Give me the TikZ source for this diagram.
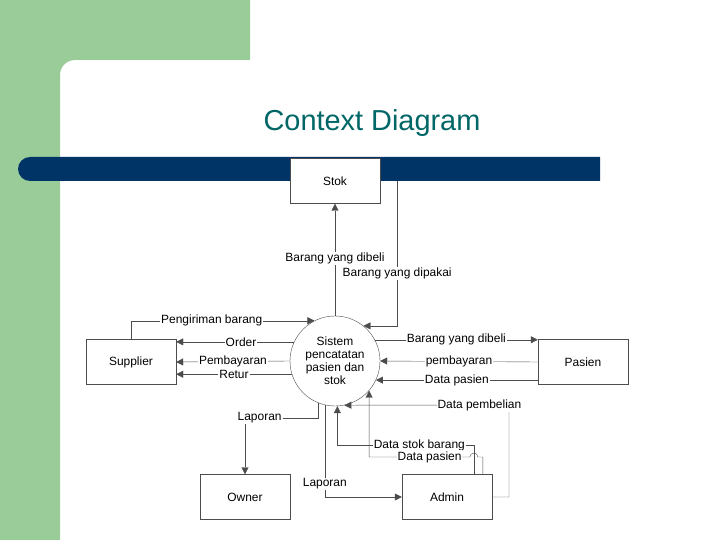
\documentclass[tikz,border=0pt]{standalone}
\usepackage{fontspec}
\setmainfont{Liberation Sans}
\usepackage{tikz}
\usetikzlibrary{arrows.meta, positioning, shapes.geometric}
\definecolor{slidegreen}{RGB}{153,204,153}
\definecolor{barnavy}{RGB}{0,51,102}
\definecolor{titleteal}{RGB}{0,102,102}

\begin{document}
\begin{tikzpicture}[x=1bp, y=-1bp,
    entity/.style={draw=black!70, fill=white, minimum width=90bp, minimum height=45bp, font=\fontsize{12}{13}\selectfont},
    process/.style={draw=black!70, fill=white, circle, minimum size=90bp, inner sep=0pt, align=center, font=\fontsize{12}{13}\selectfont},
    flow/.style={draw=black!70, -{Triangle[length=7bp, width=7bp]}},
    lbl/.style={fill=white, inner sep=1bp, font=\fontsize{12}{13}\selectfont}]
    \useasboundingbox (0,0) rectangle (720,540);

    % Slide background
    \fill[slidegreen] (0,0) -- (250,0) -- (250,60) -- (75,60) arc[start angle=-90, end angle=-180, radius=15] -- (60,540) -- (0,540) -- cycle;
    \fill[barnavy] (600,157) -- (30,157) arc[start angle=-90, end angle=-270, radius=12] -- (600,181) -- cycle;
    \node[text=titleteal, font=\fontsize{29}{32}\selectfont] (title) at (372,123) {Context Diagram};

    % Entities and process
    \node[entity] (stok) at (335,181) {Stok};
    \node[process] (sys) at (335,361) {Sistem\\pencatatan\\pasien dan\\stok};
    \node[entity] (sup) at (131,362) {Supplier};
    \node[entity] (pas) at (583,362) {Pasien};
    \node[entity] (own) at (245,497) {Owner};
    \node[entity] (adm) at (447,497) {Admin};

    % Stok
    \draw[flow] (sys.north) -- node[lbl, pos=0.51] {Barang yang dibeli} (stok.south);
    \draw[flow] ([xshift=17]stok.east) |- node[lbl, pos=0.32] {Barang yang dipakai} (sys.51);

    % Supplier
    \draw[flow] (sup.north) |- node[lbl, pos=0.72] {Pengiriman barang} (sys.117);
    \draw[flow] (sys.155) -- node[lbl, pos=0.45] {Order} (sys.155 -| sup.east);
    \draw[flow] (sys.west) -- node[lbl, pos=0.5] {Pembayaran} (sup.east);
    \draw[flow] (sys.197) -- node[lbl, pos=0.5] {Retur} (sys.197 -| sup.east);

    % Pasien
    \draw[flow] (sys.28) -- node[lbl, pos=0.5] {Barang yang dibeli} (sys.28 -| pas.west);
    \draw[flow] (pas.west) -- node[lbl, pos=0.5] {pembayaran} (sys.east);
    \draw[flow] (sys.-25 -| pas.west) -- node[lbl, pos=0.5] {Data pasien} (sys.-25);

    % Owner and Admin
    \draw[flow] (sys.-112) |- node[lbl, pos=0.9] {Laporan} (own.north |- 0,418) -- (own.north);
    \draw[flow] (sys.-103) |- node[lbl, pos=0.43] {Laporan} (adm.west);
    \coordinate (pb) at (509,405);
    \draw[flow] (adm.east) -| (pb) -- node[lbl, pos=0.18] {Data pembelian} (sys.-78);
    \draw[flow] ([xshift=27]adm.north) |- node[lbl, pos=0.7] {Data stok barang} (sys.-87 |- 0,445) -- (sys.-87);
    \draw[flow] ([xshift=36]adm.north) |- ([xshift=31]adm.north |- 0,457)
        arc[start angle=0, end angle=-180, radius=4] -- node[lbl, pos=0.4] {Data pasien} (sys.-41 |- 0,457) -- (sys.-41);
\end{tikzpicture}
\end{document}
